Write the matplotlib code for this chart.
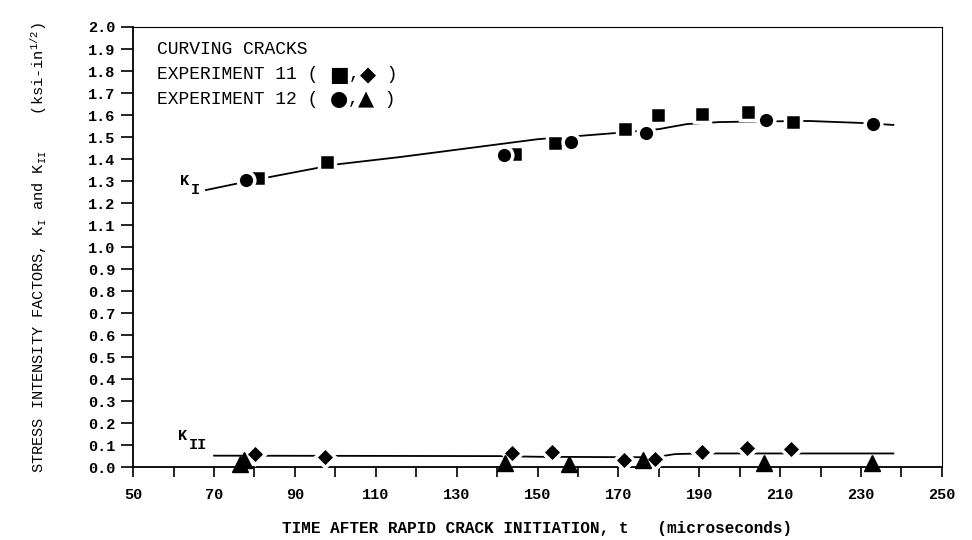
import numpy as np
import matplotlib.pyplot as plt

plt.rcParams['font.family'] = ['Liberation Mono', 'DejaVu Sans']
plt.rcParams['mathtext.fontset'] = 'custom'
plt.rcParams['mathtext.rm'] = 'Liberation Mono'
plt.rcParams['mathtext.it'] = 'Liberation Mono'

# K_I, experiment 11 (squares)
k1_exp11_t = [80.9, 98.0, 144.4, 154.3, 171.6, 179.8, 190.7, 202.0, 213.2]
k1_exp11_v = [1.314, 1.386, 1.423, 1.473, 1.536, 1.600, 1.604, 1.614, 1.568]
# K_I, experiment 12 (circles)
k1_exp12_t = [77.9, 141.7, 158.3, 176.8, 206.5, 233.0]
k1_exp12_v = [1.305, 1.418, 1.477, 1.518, 1.577, 1.559]
# K_II, experiment 11 (diamonds)
k2_exp11_t = [80.2, 97.5, 143.8, 153.5, 171.3, 179.0, 190.6, 201.7, 212.6]
k2_exp11_v = [0.060, 0.045, 0.064, 0.068, 0.030, 0.036, 0.068, 0.086, 0.082]
# K_II, experiment 12 (triangles)
k2_exp12_t = [76.5, 77.5, 142.0, 157.7, 176.0, 206.0, 232.7]
k2_exp12_v = [0.015, 0.030, 0.018, 0.015, 0.030, 0.020, 0.020]

# faired curves drawn through the data
k1_fit_t = [68, 80, 100, 116, 150, 172, 180, 187, 195, 202, 217, 230, 238]
k1_fit_v = [1.259, 1.305, 1.375, 1.409, 1.490, 1.522, 1.536, 1.559, 1.568, 1.570, 1.573, 1.564, 1.555]
k2_fit_t = [70, 140, 150, 172, 179, 184, 190, 238]
k2_fit_v = [0.052, 0.050, 0.047, 0.045, 0.045, 0.059, 0.062, 0.062]

fig = plt.figure(figsize=(9.72, 5.4), dpi=100)
ax = fig.add_axes([0.137, 0.135, 0.832, 0.815])

ax.plot(k1_fit_t, k1_fit_v, color='black', lw=1.3, zorder=1)
ax.plot(k2_fit_t, k2_fit_v, color='black', lw=1.3, zorder=1)

mk = dict(color='black', markeredgecolor='white', markeredgewidth=2.5,
          linestyle='none', zorder=3, clip_on=False)
ax.plot(k1_exp11_t, k1_exp11_v, marker='s', markersize=11, **mk)
ax.plot(k1_exp12_t, k1_exp12_v, marker='o', markersize=12, **mk)
ax.plot(k2_exp11_t, k2_exp11_v, marker='D', markersize=10.5, **mk)
ax.plot(k2_exp12_t, k2_exp12_v, marker='^', markersize=11, color='black',
        markeredgecolor='black', markeredgewidth=1, linestyle='none',
        zorder=3, clip_on=False)

ax.set_xlim(50, 250)
ax.set_ylim(0, 2.0)
ax.set_xticks(np.arange(50, 251, 20))
ax.set_xticks(np.arange(50, 251, 10), minor=True)
ax.set_yticks(np.arange(0, 2.01, 0.1))
ax.set_yticklabels([f'{v:.1f}' for v in np.arange(0, 2.01, 0.1)])
ax.tick_params(axis='both', which='both', direction='out', width=1.2, labelsize=11)
ax.tick_params(axis='x', which='both', length=7, pad=8)
ax.tick_params(axis='y', length=9, pad=4)
for lab in ax.get_xticklabels() + ax.get_yticklabels():
    lab.set_fontweight('bold')
for s in ['left', 'bottom']:
    ax.spines[s].set_linewidth(1.3)
for s in ['top', 'right']:
    ax.spines[s].set_linewidth(0.8)


def legend_line(y, label, sym1, sym2):
    t = ax.text(0.03, y, label + ' ( ', fontsize=13, transform=ax.transAxes, va='center')
    t = ax.annotate(sym1, xy=(1, 0.5), xycoords=t, va='center', ha='left',
                    fontsize=15, family='DejaVu Sans')
    t = ax.annotate(',', xy=(1, 0.5), xycoords=t, va='center', ha='left', fontsize=13)
    t = ax.annotate(sym2, xy=(1, 0.5), xycoords=t, va='center', ha='left',
                    fontsize=15, family='DejaVu Sans')
    ax.annotate(' )', xy=(1, 0.5), xycoords=t, va='center', ha='left', fontsize=13)


ax.text(0.03, 0.948, 'CURVING CRACKS', fontsize=13, transform=ax.transAxes, va='center')
legend_line(0.891, 'EXPERIMENT 11', '\u25a0', '\u25c6')
legend_line(0.836, 'EXPERIMENT 12', '\u25cf', '\u25b2')

ax.text(61.5, 1.30, 'K', fontsize=11, fontweight='bold', va='center')
ax.text(64.2, 1.26, 'I', fontsize=11, fontweight='bold', va='center')
ax.text(61.0, 0.14, 'K', fontsize=11, fontweight='bold', va='center')
ax.text(63.7, 0.10, 'II', fontsize=11, fontweight='bold', va='center')

ax.set_xlabel('TIME AFTER RAPID CRACK INITIATION, t   (microseconds)',
              fontsize=11.5, fontweight='bold', labelpad=14)
ax.set_ylabel(r'STRESS INTENSITY FACTORS, K$_{\rm I}$ and K$_{\rm II}$    (ksi-in$^{1/2}$)',
              fontsize=11, labelpad=28)

fig.savefig('out.png', dpi=100)
